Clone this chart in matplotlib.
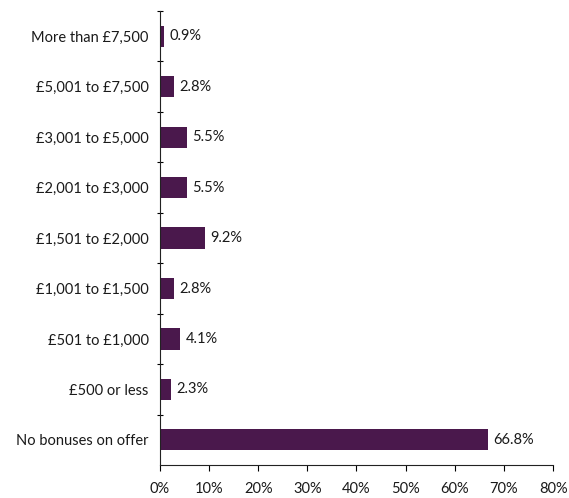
import matplotlib

matplotlib.use("Agg")

import matplotlib.pyplot as plt
from matplotlib.ticker import FixedLocator, FuncFormatter

# Bonus bands, top of chart first
bands = [
    "More than £7,500",
    "£5,001 to £7,500",
    "£3,001 to £5,000",
    "£2,001 to £3,000",
    "£1,501 to £2,000",
    "£1,001 to £1,500",
    "£501 to £1,000",
    "£500 or less",
    "No bonuses on offer",
]
shares = [0.9, 2.8, 5.5, 5.5, 9.2, 2.8, 4.1, 2.3, 66.8]
x_ticks = [0, 10, 20, 30, 40, 50, 60, 70, 80]

BAR_COLOR = "#4a184c"
TEXT_COLOR = "#1a1a1a"

plt.rcParams["font.family"] = ["Lato", "DejaVu Sans"]

fig = plt.figure(figsize=(5.69, 4.98), dpi=100)
ax = fig.add_axes([0.281, 0.066, 0.691, 0.912])

positions = list(range(len(bands)))
ax.barh(positions, shares, height=0.42, color=BAR_COLOR)
ax.set_ylim(len(bands) - 0.5, -0.5)
ax.set_xlim(0, 80)

for pos, value in zip(positions, shares):
    ax.text(value + 1.1, pos, f"{value:.1f}%", va="center", ha="left",
            fontsize=10.5, color=TEXT_COLOR)

ax.set_yticks(positions)
ax.set_yticklabels(bands, fontsize=10.5, color=TEXT_COLOR)
ax.yaxis.set_minor_locator(FixedLocator([p + 0.5 for p in positions[:-1]] + [-0.5]))
ax.tick_params(axis="y", which="major", length=0, pad=8)
ax.tick_params(axis="y", which="minor", length=5, direction="inout", width=0.8)

ax.set_xticks(x_ticks)
ax.xaxis.set_major_formatter(FuncFormatter(lambda v, _: f"{v:.0f}%"))
ax.tick_params(axis="x", length=4, width=0.8, labelsize=10.5, labelcolor=TEXT_COLOR, pad=8)

for side in ("top", "right"):
    ax.spines[side].set_visible(False)
for side in ("left", "bottom"):
    ax.spines[side].set_linewidth(0.8)
    ax.spines[side].set_color("#222222")

fig.savefig("out.png", dpi=100)
